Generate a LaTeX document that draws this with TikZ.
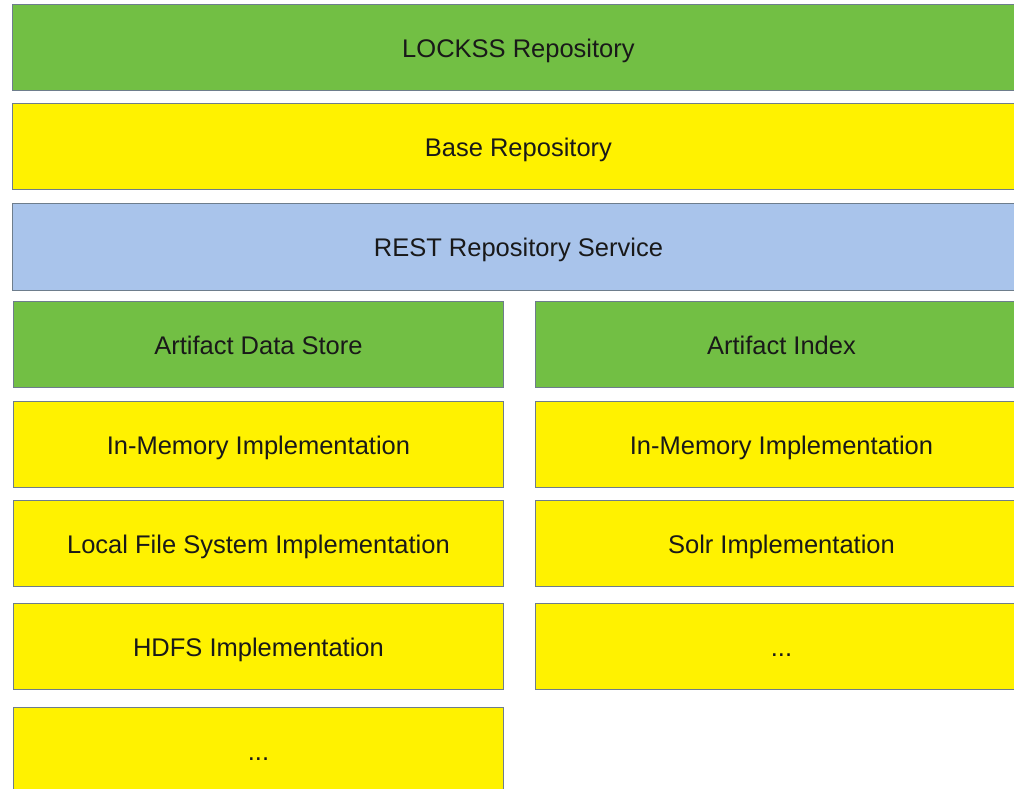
\documentclass[tikz,border=0pt]{standalone}
\usepackage{fontspec}
\setmainfont{Liberation Sans}
\definecolor{lgreen}{RGB}{114,191,68}
\definecolor{lyellow}{RGB}{255,242,0}
\definecolor{lblue}{RGB}{169,196,235}
\definecolor{lborder}{RGB}{110,125,140}
\begin{document}
\begin{tikzpicture}[x=1pt,y=-1pt,
  layer/.style={draw=lborder, line width=0.9pt, inner sep=0pt, anchor=north west, font=\fontsize{25.5}{30}\selectfont, text=black!90, text height=19.5pt, text depth=0pt},
  greenbox/.style={layer, fill=lgreen},
  yellowbox/.style={layer, fill=lyellow},
  bluebox/.style={layer, fill=lblue}]
\useasboundingbox (0,0) rectangle (1014,789);
\clip (0,0) rectangle (1014,789);
\node[greenbox, minimum width=1012pt, minimum height=86pt] (lockss) at (12,4) {LOCKSS Repository};
\node[yellowbox, minimum width=1012pt, minimum height=86pt] (base) at (12,103) {Base Repository};
\node[bluebox, minimum width=1012pt, minimum height=87pt] (rest) at (12,203) {REST Repository Service};
\node[greenbox, minimum width=490pt, minimum height=86pt] (ads) at (13,301) {Artifact Data Store};
\node[greenbox, minimum width=492pt, minimum height=86pt] (ai) at (535,301) {Artifact Index};
\node[yellowbox, minimum width=490pt, minimum height=86pt] (adsmem) at (13,401) {In-Memory Implementation};
\node[yellowbox, minimum width=492pt, minimum height=86pt] (aimem) at (535,401) {In-Memory Implementation};
\node[yellowbox, minimum width=490pt, minimum height=86pt] (adsfs) at (13,500) {Local File System Implementation};
\node[yellowbox, minimum width=492pt, minimum height=86pt] (aisolr) at (535,500) {Solr Implementation};
\node[yellowbox, minimum width=490pt, minimum height=86pt] (adshdfs) at (13,603) {HDFS Implementation};
\node[yellowbox, minimum width=492pt, minimum height=86pt] (aidots) at (535,603) {...};
\node[yellowbox, minimum width=490pt, minimum height=86pt] (adsdots) at (13,707) {...};
\end{tikzpicture}
\end{document}
